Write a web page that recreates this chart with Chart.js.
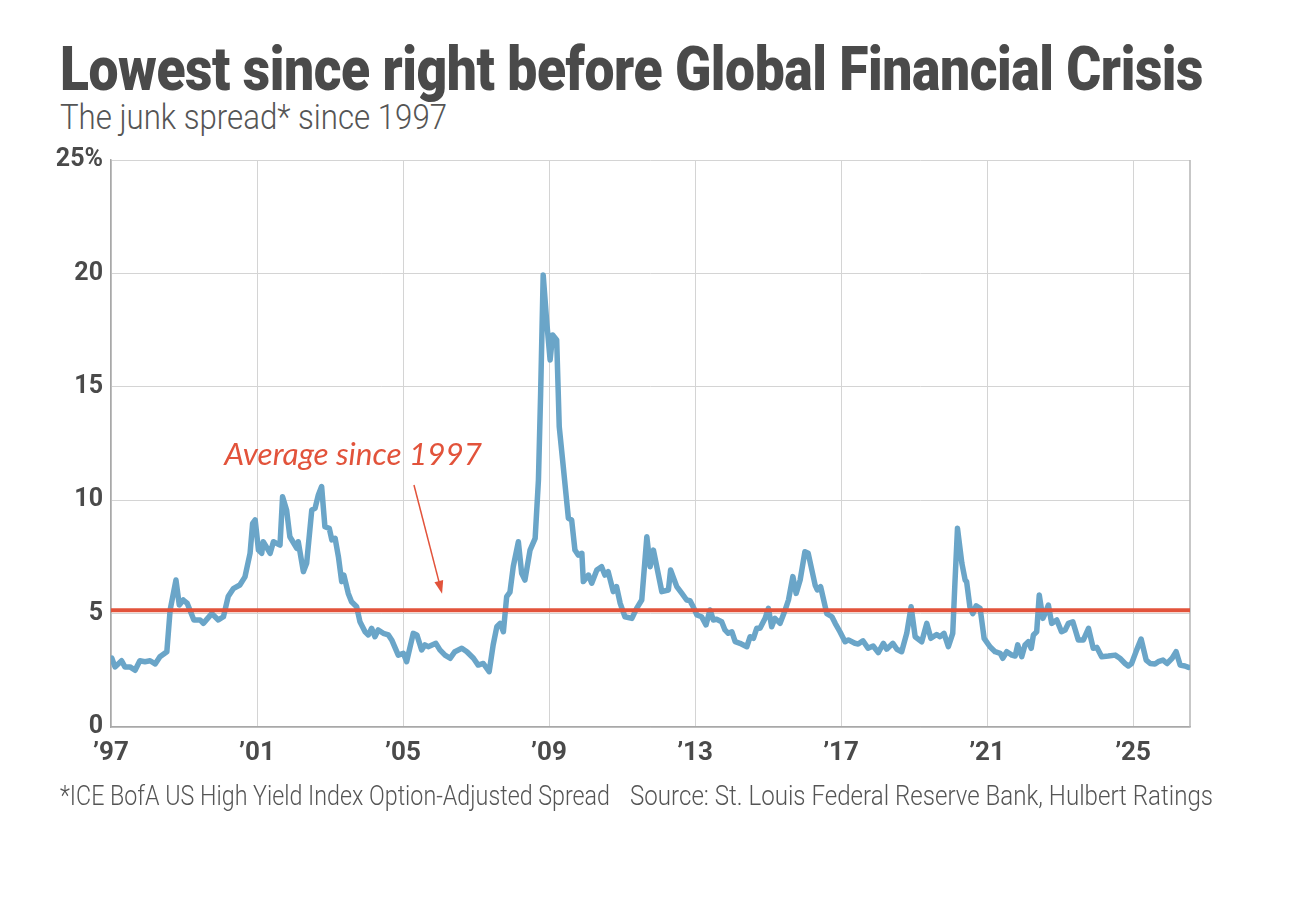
<!DOCTYPE html>
<html>
<head>
<meta charset="utf-8">
<title>Junk spread since 1997</title>
<script src="https://cdn.jsdelivr.net/npm/chart.js@4.4.1/dist/chart.umd.min.js"></script>
<style>
    html, body { margin: 0; padding: 0; background: #fff; }
    body { width: 1292px; height: 898px; position: relative; overflow: hidden; font-family: Roboto, "Noto Sans", sans-serif; }
    .txt { position: absolute; white-space: nowrap; line-height: 1; transform-origin: 0 0; }
    #title { left: 60px; top: 38px; font-size: 62px; font-weight: 900; color: #4a4a4a; letter-spacing: -0.5px; }
    #subtitle { left: 60px; top: 100px; font-size: 35px; font-weight: 300; color: #555; }
    #note { left: 60px; top: 783px; font-size: 27px; font-weight: 300; color: #555; }
    #source { left: 630px; top: 783px; font-size: 27px; font-weight: 300; color: #555; }
    #chart { position: absolute; left: 0; top: 0; }
</style>
</head>
<body>
<div class="txt" id="title" data-w="1143">Lowest since right before Global Financial Crisis</div>
<div class="txt" id="subtitle" data-w="387">The junk spread* since 1997</div>
<canvas id="chart" width="1292" height="898"></canvas>
<div class="txt" id="note" data-w="550">*ICE BofA US High Yield Index Option-Adjusted Spread</div>
<div class="txt" id="source" data-w="583">Source: St. Louis Federal Reserve Bank, Hulbert Ratings</div>

<script>
// Dados (ano decimal, spread em %)
const dates = [
    1997.02, 1997.11, 1997.29, 1997.38, 1997.52, 1997.66, 1997.79, 1997.93, 1998.07, 1998.21,
    1998.34, 1998.53, 1998.62, 1998.78, 1998.87, 1998.98, 1999.09, 1999.27, 1999.44, 1999.53,
    1999.76, 1999.94, 2000.08, 2000.21, 2000.35, 2000.53, 2000.67, 2000.81, 2000.88, 2000.95,
    2001.04, 2001.13, 2001.17, 2001.36, 2001.45, 2001.63, 2001.70, 2001.81, 2001.90, 2002.09,
    2002.13, 2002.27, 2002.36, 2002.50, 2002.59, 2002.68, 2002.77, 2002.86, 2002.98, 2003.05,
    2003.14, 2003.23, 2003.32, 2003.38, 2003.50, 2003.59, 2003.73, 2003.82, 2003.96, 2004.05,
    2004.14, 2004.23, 2004.32, 2004.46, 2004.60, 2004.69, 2004.87, 2005.01, 2005.10, 2005.28,
    2005.38, 2005.51, 2005.60, 2005.69, 2005.90, 2006.01, 2006.15, 2006.29, 2006.42, 2006.61,
    2006.75, 2006.93, 2007.06, 2007.20, 2007.36, 2007.47, 2007.57, 2007.66, 2007.75, 2007.84,
    2007.93, 2008.02, 2008.16, 2008.25, 2008.34, 2008.48, 2008.62, 2008.71, 2008.77, 2008.84,
    2008.94, 2009.03, 2009.10, 2009.21, 2009.28, 2009.39, 2009.53, 2009.62, 2009.71, 2009.80,
    2009.90, 2009.94, 2010.08, 2010.17, 2010.31, 2010.44, 2010.53, 2010.62, 2010.76, 2010.85,
    2010.95, 2011.08, 2011.27, 2011.40, 2011.54, 2011.68, 2011.77, 2011.86, 2012.09, 2012.27,
    2012.33, 2012.50, 2012.64, 2012.77, 2012.86, 2012.95, 2013.05, 2013.18, 2013.30, 2013.41,
    2013.50, 2013.59, 2013.73, 2013.82, 2013.91, 2014.01, 2014.10, 2014.23, 2014.42, 2014.51,
    2014.60, 2014.69, 2014.78, 2014.92, 2015.01, 2015.10, 2015.19, 2015.33, 2015.47, 2015.56,
    2015.68, 2015.77, 2015.88, 2016.01, 2016.10, 2016.29, 2016.35, 2016.44, 2016.61, 2016.75,
    2016.84, 2016.97, 2017.11, 2017.20, 2017.38, 2017.47, 2017.60, 2017.74, 2017.88, 2018.02,
    2018.16, 2018.25, 2018.42, 2018.53, 2018.66, 2018.80, 2018.92, 2019.03, 2019.12, 2019.21,
    2019.35, 2019.46, 2019.62, 2019.71, 2019.82, 2019.94, 2020.06, 2020.12, 2020.19, 2020.31,
    2020.40, 2020.44, 2020.53, 2020.61, 2020.70, 2020.81, 2020.92, 2021.08, 2021.22, 2021.36,
    2021.43, 2021.54, 2021.68, 2021.77, 2021.84, 2021.95, 2022.04, 2022.13, 2022.21, 2022.27,
    2022.36, 2022.43, 2022.53, 2022.59, 2022.68, 2022.77, 2022.91, 2023.04, 2023.14, 2023.23,
    2023.35, 2023.50, 2023.64, 2023.78, 2023.91, 2024.01, 2024.14, 2024.32, 2024.51, 2024.64,
    2024.78, 2024.87, 2024.96, 2025.10, 2025.22, 2025.36, 2025.47, 2025.60, 2025.69, 2025.82,
    2025.93, 2026.07, 2026.18, 2026.29, 2026.42, 2026.52
];
const spread = [
    3.04, 2.65, 2.92, 2.65, 2.65, 2.50, 2.92, 2.88, 2.92, 2.78,
    3.10, 3.32, 5.16, 6.48, 5.38, 5.60, 5.45, 4.72, 4.72, 4.57,
    5.00, 4.72, 4.86, 5.75, 6.10, 6.26, 6.62, 7.66, 8.98, 9.13,
    7.80, 7.66, 8.17, 7.66, 8.17, 8.02, 10.15, 9.57, 8.39, 7.88,
    8.17, 6.85, 7.22, 9.57, 9.64, 10.23, 10.60, 8.83, 8.76, 8.25,
    8.32, 7.51, 6.41, 6.70, 5.89, 5.52, 5.30, 4.64, 4.20, 4.06,
    4.35, 3.98, 4.28, 4.13, 4.06, 3.84, 3.17, 3.25, 2.88, 4.13,
    4.06, 3.40, 3.62, 3.54, 3.69, 3.40, 3.17, 3.03, 3.32, 3.47,
    3.32, 3.03, 2.73, 2.80, 2.44, 3.62, 4.42, 4.57, 4.20, 5.75,
    5.95, 7.07, 8.17, 6.78, 6.48, 7.80, 8.32, 10.89, 14.70, 19.93,
    17.80, 16.18, 17.28, 17.06, 13.24, 11.48, 9.20, 9.13, 7.80, 7.58,
    7.66, 6.41, 6.70, 6.34, 6.92, 7.07, 6.70, 6.85, 5.97, 6.19,
    5.45, 4.86, 4.79, 5.23, 5.60, 8.39, 7.07, 7.80, 5.97, 6.04,
    6.92, 6.19, 5.89, 5.60, 5.57, 5.30, 4.94, 4.86, 4.50, 5.16,
    4.72, 4.75, 4.64, 4.28, 4.13, 4.20, 3.76, 3.69, 3.54, 3.98,
    3.91, 4.35, 4.35, 4.79, 5.23, 4.42, 4.79, 4.57, 5.16, 5.60,
    6.63, 5.89, 6.48, 7.73, 7.66, 6.26, 6.04, 6.19, 5.00, 4.86,
    4.57, 4.20, 3.76, 3.84, 3.69, 3.66, 3.80, 3.47, 3.57, 3.28,
    3.69, 3.43, 3.69, 3.43, 3.32, 4.13, 5.30, 3.98, 3.87, 3.76,
    4.57, 3.91, 4.08, 3.98, 4.13, 3.54, 4.13, 6.34, 8.76, 7.22,
    6.48, 6.41, 5.30, 5.00, 5.34, 5.23, 3.91, 3.54, 3.32, 3.25,
    3.03, 3.32, 3.17, 3.13, 3.62, 3.10, 3.62, 3.76, 3.47, 4.06,
    4.20, 5.82, 4.79, 5.00, 5.38, 4.57, 4.72, 4.20, 4.28, 4.57,
    4.64, 3.84, 3.84, 4.35, 3.47, 3.51, 3.10, 3.13, 3.17, 3.03,
    2.80, 2.69, 2.80, 3.40, 3.88, 2.95, 2.80, 2.78, 2.88, 2.95,
    2.80, 3.03, 3.32, 2.73, 2.69, 2.63
];
const xTicks = [1997, 2001, 2005, 2009, 2013, 2017, 2021, 2025];
const yTicks = [0, 5, 10, 15, 20, 25];
const xMin = 1997;
const xMax = 2026.56;
const average = 5.15;

// Anotação "Average since 1997" (posições em unidades do gráfico)
const noteText = 'Average since 1997';
const noteAt = [2000.1, 11.55];
const arrowFrom = [2005.3, 10.67];
const arrowTo = [2006.07, 5.88];

const BLUE = '#6aa5c8';
const RED = '#e2533b';
const GRID = '#d4d4d4';

// Ajusta a largura dos textos HTML à largura do original
document.querySelectorAll('.txt').forEach(function(el) {
    const target = parseFloat(el.dataset.w);
    const w = el.getBoundingClientRect().width;
    if (w > 0) el.style.transform = 'scaleX(' + (target / w) + ')';
});

const frameAndNote = {
    id: 'frameAndNote',
    beforeDatasetsDraw(chart) {
        const {ctx, chartArea} = chart;
        ctx.save();
        ctx.strokeStyle = '#b5b5b5';
        ctx.lineWidth = 1.5;
        ctx.beginPath();
        ctx.moveTo(chartArea.right, chartArea.top);
        ctx.lineTo(chartArea.right, chartArea.bottom);
        ctx.stroke();
        ctx.restore();
    },
    afterDatasetsDraw(chart) {
        const {ctx, scales} = chart;
        const x = scales.x, y = scales.y;
        ctx.save();
        ctx.fillStyle = RED;
        ctx.strokeStyle = RED;
        ctx.font = 'italic 31.5px Lato, "Open Sans", sans-serif';
        ctx.textBaseline = 'alphabetic';
        ctx.textAlign = 'left';
        ctx.fillText(noteText, x.getPixelForValue(noteAt[0]), y.getPixelForValue(noteAt[1]));

        const x1 = x.getPixelForValue(arrowFrom[0]), y1 = y.getPixelForValue(arrowFrom[1]);
        const x2 = x.getPixelForValue(arrowTo[0]), y2 = y.getPixelForValue(arrowTo[1]);
        const ang = Math.atan2(y2 - y1, x2 - x1);
        const head = 13;
        ctx.lineWidth = 1.5;
        ctx.beginPath();
        ctx.moveTo(x1, y1);
        ctx.lineTo(x2 - Math.cos(ang) * head * 0.8, y2 - Math.sin(ang) * head * 0.8);
        ctx.stroke();
        ctx.beginPath();
        ctx.moveTo(x2, y2);
        ctx.lineTo(x2 - head * Math.cos(ang) + 4.5 * Math.sin(ang), y2 - head * Math.sin(ang) - 4.5 * Math.cos(ang));
        ctx.lineTo(x2 - head * Math.cos(ang) - 4.5 * Math.sin(ang), y2 - head * Math.sin(ang) + 4.5 * Math.cos(ang));
        ctx.closePath();
        ctx.fill();
        ctx.restore();
    }
};

const tickFont = { family: 'Roboto, "Noto Sans", sans-serif', size: 25, weight: 'bold' };

new Chart(document.getElementById('chart').getContext('2d'), {
    type: 'line',
    data: {
        datasets: [{
            label: 'Average',
            data: [{x: xMin, y: average}, {x: xMax, y: average}],
            borderColor: RED,
            borderWidth: 4,
            pointRadius: 0,
            order: 0
        }, {
            label: 'Junk spread',
            data: dates.map((d, i) => ({x: d, y: spread[i]})),
            borderColor: BLUE,
            borderWidth: 5.5,
            borderJoinStyle: 'round',
            borderCapStyle: 'round',
            pointRadius: 0,
            tension: 0,
            fill: false,
            order: 1
        }]
    },
    options: {
        responsive: false,
        animation: false,
        events: [],
        layout: { padding: { top: 160, right: 102, bottom: 0, left: 0 } },
        plugins: {
            legend: { display: false },
            title: { display: false },
            tooltip: { enabled: false }
        },
        scales: {
            x: {
                type: 'linear',
                min: xMin,
                max: xMax,
                afterFit: function(scale) { scale.height = 171; },
                afterBuildTicks: function(scale) { scale.ticks = xTicks.map(v => ({value: v})); },
                grid: { color: GRID, lineWidth: 1, drawTicks: false },
                border: { color: '#a8a8a8', width: 1.5 },
                ticks: {
                    padding: 11,
                    color: '#4a4a4a',
                    font: { family: tickFont.family, size: 26, weight: 'bold' },
                    maxRotation: 0,
                    autoSkip: false,
                    callback: v => '\u2019' + String(v).slice(2)
                }
            },
            y: {
                min: 0,
                max: 25,
                afterFit: function(scale) { scale.width = 111; },
                afterBuildTicks: function(scale) { scale.ticks = yTicks.map(v => ({value: v})); },
                grid: { color: GRID, lineWidth: 1, drawTicks: false },
                border: { color: '#a8a8a8', width: 1.5 },
                ticks: {
                    padding: 8,
                    color: '#4a4a4a',
                    font: tickFont,
                    callback: v => v === 25 ? '25%' : String(v)
                }
            }
        }
    },
    plugins: [frameAndNote]
});
</script>
</body>
</html>
